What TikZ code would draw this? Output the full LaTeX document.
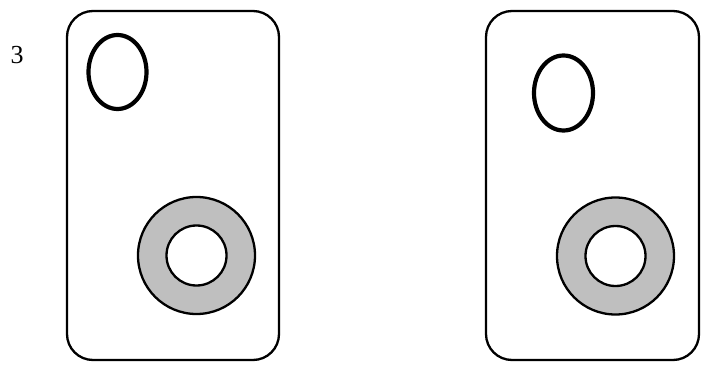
\documentclass[tikz,border=0pt]{standalone}
\usepackage{fontspec}
\setmainfont{Liberation Serif}
\begin{document}
\begin{tikzpicture}[x=1pt,y=-1pt,
  card/.style={draw=black,line width=2.3pt,rounded corners=26pt},
  hole/.style={draw=black,line width=4.2pt},
  ring/.style={draw=black,line width=2.3pt,fill=ringgray,even odd rule},
  lab/.style={font=\fontsize{26}{28}\selectfont,inner sep=0pt}]
\definecolor{ringgray}{gray}{0.75}
\useasboundingbox (0,0) rectangle (704,366);
\fill[white] (0,0) rectangle (704,366);
% left card
\draw[card] (67,11) rectangle (279,360);
\draw[hole] (117.5,72) ellipse [x radius=29, y radius=37];
\draw[ring] (196.5,255.5) circle [radius=58.5] (196.5,255.5) circle [radius=30];
% right card
\draw[card] (486,11) rectangle (699,360);
\draw[hole] (563.5,93) ellipse [x radius=29.5, y radius=37.5];
\draw[ring] (615.5,256) circle [radius=58.5] (615.5,256) circle [radius=30];
\node[lab] (num) at (17,55) {3};
\end{tikzpicture}
\end{document}
